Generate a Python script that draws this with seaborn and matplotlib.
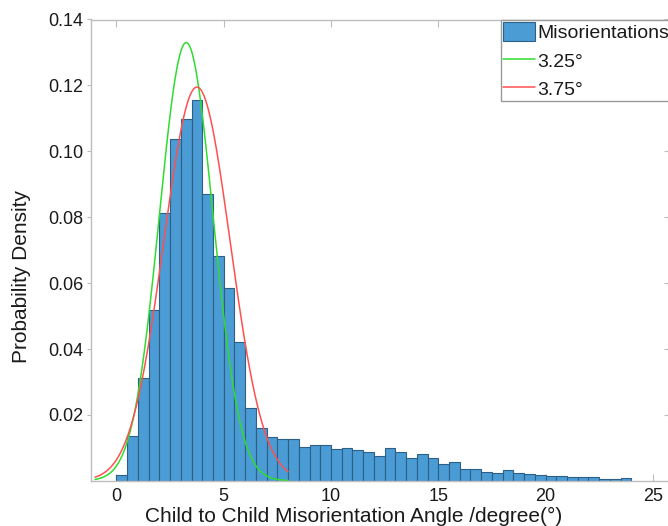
import numpy as np
import pandas as pd
import matplotlib
matplotlib.use("Agg")
import matplotlib.pyplot as plt
from matplotlib.patches import Patch
from matplotlib.lines import Line2D
import seaborn as sns

# ---- data ----
bin_width = 0.5
bin_starts = [i * 0.5 for i in range(48)]  # 0.0 ... 23.5
densities = [
    0.0018, 0.0136, 0.0313, 0.0519, 0.0813, 0.1038, 0.1098, 0.1157,
    0.0871, 0.0681, 0.0585, 0.0420, 0.0220, 0.0160, 0.0132, 0.0126,
    0.0127, 0.0104, 0.0108, 0.0109, 0.0098, 0.0100, 0.0094, 0.0087,
    0.0076, 0.0101, 0.0088, 0.0070, 0.0082, 0.0069, 0.0052, 0.0057,
    0.0036, 0.0036, 0.0028, 0.0023, 0.0032, 0.0025, 0.0020, 0.0018,
    0.0015, 0.0014, 0.0012, 0.0012, 0.0011, 0.0005, 0.0005, 0.0008,
]
fit_labels = ["3.25°", "3.75°"]
fit_means = [3.25, 3.75]
fit_sigmas = [1.25, 1.55]
fit_peaks = [0.133, 0.1195]
fit_range = [-1.0, 8.0]
fit_colors = ["#2fdc2f", "#ff5050"]

x_ticks = [0, 5, 10, 15, 20, 25]
y_ticks = [0.02, 0.04, 0.06, 0.08, 0.10, 0.12, 0.14]

sns.set_style("white")
plt.rcParams["font.family"] = ["Liberation Sans", "DejaVu Sans"]

W, H = 668, 526
fig = plt.figure(figsize=(W / 100, H / 100), dpi=100)
ax_l, ax_r, ax_t, ax_b = 90.5, 671.0, 19.5, 480.8
ax = fig.add_axes([ax_l / W, 1 - ax_b / H, (ax_r - ax_l) / W, (ax_b - ax_t) / H])

bar_color = "#4B9BD5"
edge_color = "#2E5F84"

hist_df = pd.DataFrame({
    "angle": [s + bin_width / 2 for s in bin_starts],
    "density": densities,
})
edges = bin_starts + [bin_starts[-1] + bin_width]
sns.histplot(data=hist_df, x="angle", weights="density", bins=edges,
             stat="count", color=bar_color, edgecolor=edge_color,
             linewidth=0.8, alpha=1.0, ax=ax)

xs = np.linspace(fit_range[0], fit_range[1], 400)
for mu, sd, pk, col in zip(fit_means, fit_sigmas, fit_peaks, fit_colors):
    ys = pk * np.exp(-((xs - mu) ** 2) / (2 * sd ** 2))
    sns.lineplot(x=xs, y=ys, color=col, linewidth=1.1, ax=ax)

ax.set_xlim(-1.212, 25.85)
ax.set_ylim(0, 0.14)

spine_col = "#bdbdbd"
for s in ax.spines.values():
    s.set_visible(True)
    s.set_color(spine_col)
    s.set_linewidth(1.0)

ax.set_xticks(x_ticks)
ax.set_xticklabels([str(t) for t in x_ticks])
ax.set_yticks(y_ticks)
ax.set_yticklabels([f"{t:.2f}" for t in y_ticks])
ax.tick_params(axis="x", direction="in", top=True, bottom=True, length=5,
               width=0.8, color=spine_col, labelsize=13, pad=5,
               labelcolor="#1a1a1a")
ax.tick_params(axis="y", direction="out", left=True, right=False, length=3,
               width=0.8, color=spine_col, labelsize=13, pad=2,
               labelcolor="#1a1a1a")

sec = ax.secondary_yaxis("right")
sec.set_yticks(y_ticks)
sec.tick_params(direction="in", length=5, width=0.8, color=spine_col,
                labelright=False)
sec.spines["right"].set_color(spine_col)

ax.set_xlabel("Child to Child Misorientation Angle /degree(°)",
              fontsize=15, color="#1a1a1a", va="center")
ax.set_ylabel("Probability Density", fontsize=15, color="#1a1a1a")
ax.xaxis.set_label_coords(0.454, -0.0775)
ax.yaxis.set_label_coords(-0.102, 0.442)

handles = [Patch(facecolor=bar_color, edgecolor=edge_color, linewidth=0.8,
                 label="Misorientations")]
for lab, col in zip(fit_labels, fit_colors):
    handles.append(Line2D([0], [0], color=col, linewidth=1.1, label=lab))
leg = ax.legend(handles=handles, loc="upper left",
                bbox_to_anchor=(500.7 / W, 1 - 19.8 / H),
                bbox_transform=fig.transFigure, borderaxespad=0,
                fontsize=14, handlelength=1.65, handleheight=1.08,
                handletextpad=0.12, labelspacing=0.45, borderpad=0.12,
                fancybox=False, framealpha=1, edgecolor="#9a9a9a")
leg.get_frame().set_linewidth(1.0)
for t in leg.get_texts():
    t.set_color("#1a1a1a")

fig.savefig("out.png", dpi=100)
